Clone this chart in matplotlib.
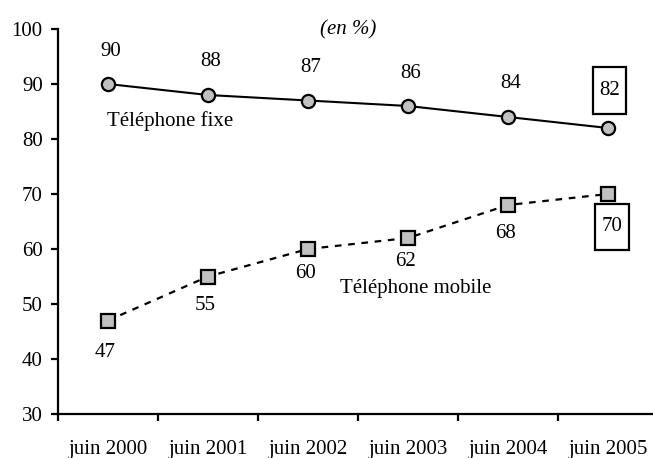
import numpy as np
import matplotlib.pyplot as plt

plt.rcParams['font.family'] = ['Liberation Serif', 'DejaVu Serif']

periodes = ['juin 2000', 'juin 2001', 'juin 2002', 'juin 2003', 'juin 2004', 'juin 2005']
fixe = [90, 88, 87, 86, 84, 82]
mobile = [47, 55, 60, 62, 68, 70]

# label offsets in pixels (from the point)
fixe_off = [33, 33, 33, 33, 33]
mobile_off = [-32, -29, -24, -24, -28]

fig = plt.figure(figsize=(6.53, 4.58), dpi=100)
ax = fig.add_axes([58 / 653, 44 / 458, 600 / 653, 385 / 458])
x = np.arange(len(periodes))

ax.plot(x, fixe, color='black', lw=1.5, marker='o', ms=9.5,
        mfc='#c0c0c0', mec='black', mew=1.6, zorder=3)
ax.plot(x, mobile, color='black', lw=1.6, ls=(0, (3, 3)), marker='s', ms=10,
        mfc='#c0c0c0', mec='black', mew=1.6, zorder=3)

fs = 15
for i in range(len(periodes) - 1):
    ax.annotate(str(fixe[i]), (x[i], fixe[i]), xytext=(2, fixe_off[i] * 0.72),
                textcoords='offset points', ha='center', va='center', fontsize=fs)
    ax.annotate(str(mobile[i]), (x[i], mobile[i]), xytext=(-2, mobile_off[i] * 0.72),
                textcoords='offset points', ha='center', va='center', fontsize=fs)

box = dict(boxstyle='square,pad=0.31', mutation_aspect=2.1, fc='white', ec='black', lw=1.6)
ax.annotate(str(fixe[-1]), (x[-1], fixe[-1]), xytext=(1, 27), textcoords='offset points',
            ha='center', va='center', fontsize=fs, bbox=box)
ax.annotate(str(mobile[-1]), (x[-1], mobile[-1]), xytext=(3, -23.5), textcoords='offset points',
            ha='center', va='center', fontsize=fs, bbox=box)

ax.text(-0.01, 83.2, 'Téléphone fixe', fontsize=fs, ha='left', va='center')
ax.text(2.32, 52.8, 'Téléphone mobile', fontsize=fs, ha='left', va='center')
ax.text(2.4, 99.8, '(en %)', fontsize=fs, style='italic', ha='center', va='center')

ax.set_xlim(-0.5, 5.5)
ax.set_ylim(30, 100)
ax.set_yticks(range(30, 101, 10))
ax.set_xticks(x)
ax.set_xticklabels(periodes)
ax.set_xticks(np.arange(-0.5, 5.6, 1), minor=True)
ax.tick_params(axis='x', which='major', length=0, pad=19, labelsize=fs)
ax.tick_params(axis='x', which='minor', length=5, width=1.6, direction='out')
ax.tick_params(axis='y', length=5, width=1.6, pad=6, labelsize=fs)
for s in ['top', 'right']:
    ax.spines[s].set_visible(False)
for s in ['left', 'bottom']:
    ax.spines[s].set_linewidth(1.6)

fig.savefig('out.png', dpi=100)
